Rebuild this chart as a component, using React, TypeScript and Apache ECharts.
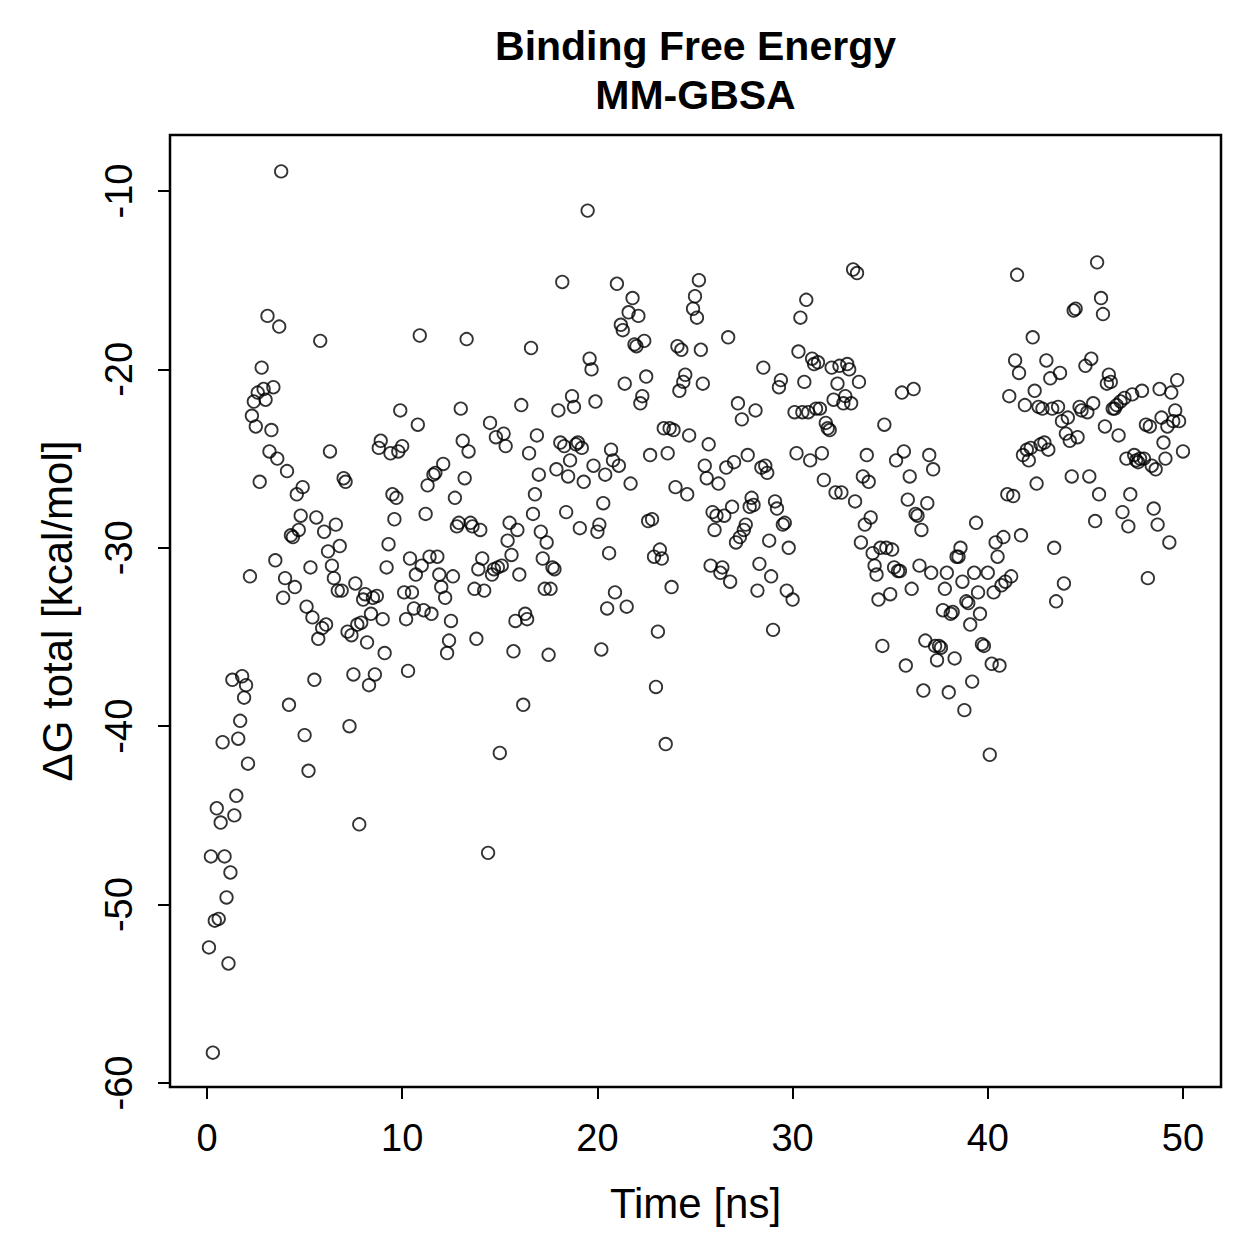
import React, { useEffect, useRef } from "react";
import * as echarts from "echarts";

// ---- text ----
const TITLE_LINES = ["Binding Free Energy", "MM-GBSA"];
const X_LABEL = "Time [ns]";
const Y_LABEL = "ΔG total [kcal/mol]";

// ---- axis ticks ----
const X_TICKS = [0, 10, 20, 30, 40, 50];
const Y_TICKS = [-60, -50, -40, -30, -20, -10];

// ---- MM-GBSA snapshots: [time (ns), ΔG total (kcal/mol)] ----
const block00: [number, number][] = [
  [0.1, -52.4], [0.2, -47.3], [0.3, -58.3], [0.4, -50.9], [0.5, -44.6], [0.6, -50.8], [0.7, -45.4], [0.8, -40.9], [0.9, -47.3], [1.0, -49.6],
  [1.1, -53.3], [1.2, -48.2], [1.3, -37.4], [1.4, -45.0], [1.5, -43.9], [1.6, -40.7], [1.7, -39.7], [1.8, -37.2], [1.9, -38.4], [2.0, -37.7],
  [2.1, -42.1], [2.2, -31.6], [2.3, -22.6], [2.4, -21.8], [2.5, -23.2], [2.6, -21.3], [2.7, -26.3], [2.8, -19.9], [2.9, -21.1], [3.0, -21.7],
  [3.1, -17.0], [3.2, -24.6], [3.3, -23.4], [3.4, -21.0], [3.5, -30.7], [3.6, -25.0], [3.7, -17.6], [3.8, -8.9], [3.9, -32.8], [4.0, -31.7],
  [4.1, -25.7], [4.2, -38.8], [4.3, -29.3], [4.4, -29.4], [4.5, -32.2], [4.6, -27.0], [4.7, -29.0], [4.8, -28.2], [4.9, -26.6], [5.0, -40.5],
];
const block05: [number, number][] = [
  [5.1, -33.3], [5.2, -42.5], [5.3, -31.1], [5.4, -33.9], [5.5, -37.4], [5.6, -28.3], [5.7, -35.1], [5.8, -18.4], [5.9, -34.5], [6.0, -29.1],
  [6.1, -34.3], [6.2, -30.2], [6.3, -24.6], [6.4, -31.0], [6.5, -31.7], [6.6, -28.7], [6.7, -32.4], [6.8, -29.9], [6.9, -32.4], [7.0, -26.1],
  [7.1, -26.3], [7.2, -34.7], [7.3, -40.0], [7.4, -34.9], [7.5, -37.1], [7.6, -32.0], [7.7, -34.3], [7.8, -45.5], [7.9, -34.2], [8.0, -32.9],
  [8.1, -32.6], [8.2, -35.3], [8.3, -37.7], [8.4, -33.7], [8.5, -32.8], [8.6, -37.1], [8.7, -32.7], [8.8, -24.4], [8.9, -24.0], [9.0, -34.0],
  [9.1, -35.9], [9.2, -31.1], [9.3, -29.8], [9.4, -24.7], [9.5, -27.0], [9.6, -28.4], [9.7, -27.2], [9.8, -24.6], [9.9, -22.3], [10.0, -24.3],
];
const block10: [number, number][] = [
  [10.1, -32.5], [10.2, -34.0], [10.3, -36.9], [10.4, -30.6], [10.5, -32.5], [10.6, -33.4], [10.7, -31.5], [10.8, -23.1], [10.9, -18.1], [11.0, -31.0],
  [11.1, -33.5], [11.2, -28.1], [11.3, -26.5], [11.4, -30.5], [11.5, -33.7], [11.6, -25.9], [11.7, -25.8], [11.8, -30.5], [11.9, -31.5], [12.0, -32.2],
  [12.1, -25.3], [12.2, -32.8], [12.3, -35.9], [12.4, -35.2], [12.5, -34.1], [12.6, -31.6], [12.7, -27.2], [12.8, -28.8], [12.9, -28.6], [13.0, -22.2],
  [13.1, -24.0], [13.2, -26.1], [13.3, -18.3], [13.4, -24.6], [13.5, -28.6], [13.6, -28.8], [13.7, -32.3], [13.8, -35.1], [13.9, -31.2], [14.0, -29.0],
  [14.1, -30.6], [14.2, -32.4], [14.4, -47.1], [14.5, -23.0], [14.6, -31.5], [14.7, -31.2], [14.8, -23.8], [14.9, -31.1], [15.0, -41.5],
];
const block15: [number, number][] = [
  [15.1, -31.0], [15.2, -23.6], [15.3, -24.3], [15.4, -29.6], [15.5, -28.6], [15.6, -30.4], [15.7, -35.8], [15.8, -34.1], [15.9, -29.0], [16.0, -31.5],
  [16.1, -22.0], [16.2, -38.8], [16.3, -33.7], [16.4, -34.0], [16.5, -24.7], [16.6, -18.8], [16.7, -28.1], [16.8, -27.0], [16.9, -23.7], [17.0, -25.9],
  [17.1, -29.1], [17.2, -30.6], [17.3, -32.3], [17.4, -29.7], [17.5, -36.0], [17.6, -32.3], [17.7, -31.1], [17.8, -31.2], [17.9, -25.6], [18.0, -22.3],
  [18.1, -24.1], [18.2, -15.1], [18.3, -24.3], [18.4, -28.0], [18.5, -26.0], [18.6, -25.1], [18.7, -21.5], [18.8, -22.1], [18.9, -24.2], [19.0, -24.1],
  [19.1, -28.9], [19.2, -24.4], [19.3, -26.3], [19.5, -11.1], [19.6, -19.4], [19.7, -20.0], [19.8, -25.4], [19.9, -21.8], [20.0, -29.1],
];
const block20: [number, number][] = [
  [20.1, -28.7], [20.2, -35.7], [20.3, -27.5], [20.4, -25.9], [20.5, -33.4], [20.6, -30.3], [20.7, -24.5], [20.8, -25.1], [20.9, -32.5], [21.0, -15.2],
  [21.1, -25.4], [21.2, -17.5], [21.3, -17.8], [21.4, -20.8], [21.5, -33.3], [21.6, -16.8], [21.7, -26.4], [21.8, -16.0], [21.9, -18.6], [22.0, -18.7],
  [22.1, -17.0], [22.2, -21.9], [22.3, -21.5], [22.4, -18.4], [22.5, -20.4], [22.6, -28.5], [22.7, -24.8], [22.8, -28.4], [22.9, -30.5], [23.0, -37.8],
  [23.1, -34.7], [23.2, -30.1], [23.3, -30.6], [23.4, -23.3], [23.5, -41.0], [23.6, -24.7], [23.7, -23.3], [23.8, -32.2], [23.9, -23.4], [24.0, -26.6],
  [24.1, -18.7], [24.2, -21.2], [24.3, -18.9], [24.4, -20.7], [24.5, -20.3], [24.6, -27.0], [24.7, -23.7], [24.9, -16.6], [25.0, -15.9],
];
const block25: [number, number][] = [
  [25.1, -17.1], [25.2, -15.0], [25.3, -18.9], [25.4, -20.8], [25.5, -25.4], [25.6, -26.1], [25.7, -24.2], [25.8, -31.0], [25.9, -28.0], [26.0, -29.0],
  [26.1, -28.2], [26.2, -26.4], [26.3, -31.4], [26.4, -31.1], [26.5, -28.2], [26.6, -25.5], [26.7, -18.2], [26.8, -31.9], [26.9, -27.7], [27.0, -25.2],
  [27.1, -29.7], [27.2, -21.9], [27.3, -29.4], [27.4, -22.8], [27.5, -29.0], [27.6, -28.7], [27.7, -24.8], [27.8, -27.7], [27.9, -27.2], [28.0, -27.6],
  [28.1, -22.3], [28.2, -32.4], [28.3, -30.9], [28.4, -25.5], [28.5, -19.9], [28.6, -25.4], [28.7, -25.8], [28.8, -29.6], [28.9, -31.6], [29.0, -34.6],
  [29.1, -27.4], [29.2, -27.8], [29.3, -21.0], [29.4, -20.6], [29.5, -28.7], [29.6, -28.6], [29.7, -32.4], [29.8, -30.0], [30.0, -32.9],
];
const block30: [number, number][] = [
  [30.1, -22.4], [30.2, -24.7], [30.3, -19.0], [30.4, -17.1], [30.5, -22.4], [30.6, -20.7], [30.7, -16.1], [30.8, -22.4], [30.9, -25.1], [31.0, -19.4],
  [31.1, -19.7], [31.2, -22.2], [31.3, -19.6], [31.4, -22.2], [31.5, -24.7], [31.6, -26.2], [31.7, -23.0], [31.8, -23.3], [31.9, -23.4], [32.0, -19.9],
  [32.1, -21.7], [32.2, -26.9], [32.3, -20.8], [32.4, -19.8], [32.5, -26.9], [32.6, -21.9], [32.7, -21.5], [32.8, -19.7], [32.9, -20.0], [33.0, -21.9],
  [33.1, -14.4], [33.2, -27.4], [33.3, -14.6], [33.4, -20.7], [33.5, -29.7], [33.6, -26.0], [33.7, -28.7], [33.8, -24.8], [33.9, -26.3], [34.0, -28.3],
  [34.1, -30.3], [34.2, -31.0], [34.3, -31.5], [34.4, -32.9], [34.5, -30.0], [34.6, -35.5], [34.7, -23.1], [34.8, -30.0], [35.0, -32.6],
];
const block35: [number, number][] = [
  [35.1, -30.1], [35.2, -31.1], [35.3, -25.1], [35.4, -31.3], [35.5, -31.3], [35.6, -21.3], [35.7, -24.6], [35.8, -36.6], [35.9, -27.3], [36.0, -26.0],
  [36.1, -32.3], [36.2, -21.1], [36.3, -28.1], [36.4, -28.2], [36.5, -31.0], [36.6, -29.0], [36.7, -38.0], [36.8, -35.2], [36.9, -27.5], [37.0, -24.8],
  [37.1, -31.4], [37.2, -25.6], [37.3, -35.5], [37.4, -36.3], [37.5, -35.5], [37.6, -35.6], [37.7, -33.5], [37.8, -32.3], [37.9, -31.4], [38.0, -38.1],
  [38.1, -33.7], [38.2, -33.6], [38.3, -36.2], [38.4, -30.5], [38.5, -30.5], [38.6, -30.0], [38.7, -31.9], [38.8, -39.1], [38.9, -33.0], [39.0, -33.1],
  [39.1, -34.3], [39.2, -37.5], [39.3, -31.4], [39.4, -28.6], [39.5, -32.5], [39.6, -33.7], [39.7, -35.4], [39.8, -35.5], [40.0, -31.4],
];
const block40: [number, number][] = [
  [40.1, -41.6], [40.2, -36.5], [40.3, -32.5], [40.4, -29.7], [40.5, -30.5], [40.6, -36.6], [40.7, -32.1], [40.8, -29.4], [40.9, -31.9], [41.0, -27.0],
  [41.1, -21.5], [41.2, -31.6], [41.3, -27.1], [41.4, -19.5], [41.5, -14.7], [41.6, -20.2], [41.7, -29.3], [41.8, -24.8], [41.9, -22.0], [42.0, -24.5],
  [42.1, -25.1], [42.2, -24.4], [42.3, -18.2], [42.4, -21.2], [42.5, -26.4], [42.6, -22.1], [42.7, -24.2], [42.8, -22.2], [42.9, -24.1], [43.0, -19.5],
  [43.1, -24.5], [43.2, -20.5], [43.3, -22.2], [43.4, -30.0], [43.5, -33.0], [43.6, -22.1], [43.7, -20.2], [43.8, -22.9], [43.9, -32.0], [44.0, -23.6],
  [44.1, -22.7], [44.2, -24.0], [44.3, -26.0], [44.4, -16.7], [44.5, -16.6], [44.6, -23.8], [44.7, -22.1], [44.8, -22.3], [45.0, -19.8],
];
const block45: [number, number][] = [
  [45.1, -22.4], [45.2, -26.0], [45.3, -19.4], [45.4, -21.9], [45.5, -28.5], [45.6, -14.0], [45.7, -27.0], [45.8, -16.0], [45.9, -16.9], [46.0, -23.2],
  [46.1, -20.8], [46.2, -20.3], [46.3, -20.7], [46.4, -22.2], [46.5, -22.2], [46.6, -22.0], [46.7, -23.7], [46.8, -21.8], [46.9, -28.0], [47.0, -21.6],
  [47.1, -25.0], [47.2, -28.8], [47.3, -27.0], [47.4, -21.4], [47.5, -24.8], [47.6, -25.1], [47.7, -25.2], [47.8, -25.0], [47.9, -21.2], [48.0, -25.0],
  [48.1, -23.1], [48.2, -31.7], [48.3, -23.2], [48.4, -25.4], [48.5, -27.8], [48.6, -25.6], [48.7, -28.7], [48.8, -21.1], [48.9, -22.7], [49.0, -24.1],
  [49.1, -25.0], [49.2, -23.2], [49.3, -29.7], [49.4, -21.3], [49.5, -22.9], [49.6, -22.3], [49.7, -20.6], [49.8, -22.9], [50.0, -24.6],
];

const SAMPLES = [
  ...block00, ...block05, ...block10, ...block15, ...block20,
  ...block25, ...block30, ...block35, ...block40, ...block45,
];

// ---- page layout (px) ----
const SIZE = 1259;
const AXIS_LEFT = 207;    // x = 0
const AXIS_RIGHT = 1183;  // x = 50
const AXIS_TOP = 191;     // y = -10
const AXIS_BOTTOM = 1083; // y = -60
const FRAME = { x: 170, y: 135, width: 1051, height: 952 };
const FONT = "'Liberation Sans', Arial, Helvetica, sans-serif";

export default function App() {
  const ref = useRef<HTMLDivElement>(null);

  useEffect(() => {
    if (!ref.current) return;
    const chart = echarts.init(ref.current, null, { renderer: "svg" });
    const frameCx = FRAME.x + FRAME.width / 2;
    const frameCy = FRAME.y + FRAME.height / 2;

    const textStyle = (text: string, font: string) => ({
      text,
      fill: "#000",
      font,
      align: "center",
      verticalAlign: "middle",
    });

    chart.setOption({
      animation: false,
      backgroundColor: "#ffffff",
      grid: {
        left: AXIS_LEFT,
        right: SIZE - AXIS_RIGHT,
        top: AXIS_TOP,
        bottom: SIZE - AXIS_BOTTOM,
        containLabel: false,
      },
      xAxis: {
        type: "value",
        min: X_TICKS[0],
        max: X_TICKS[X_TICKS.length - 1],
        interval: X_TICKS[1] - X_TICKS[0],
        position: "bottom",
        offset: FRAME.y + FRAME.height - AXIS_BOTTOM,
        axisLine: { show: true, onZero: false, lineStyle: { color: "#000", width: 2 } },
        axisTick: { show: true, length: 12, lineStyle: { color: "#000", width: 2 } },
        axisLabel: { color: "#000", fontSize: 38, fontFamily: FONT, margin: 32 },
        splitLine: { show: false },
      },
      yAxis: {
        type: "value",
        min: Y_TICKS[0],
        max: Y_TICKS[Y_TICKS.length - 1],
        interval: Y_TICKS[1] - Y_TICKS[0],
        position: "left",
        offset: AXIS_LEFT - FRAME.x,
        axisLine: { show: true, onZero: false, lineStyle: { color: "#000", width: 2 } },
        axisTick: { show: true, length: 12, lineStyle: { color: "#000", width: 2 } },
        axisLabel: { color: "#000", fontSize: 38, fontFamily: FONT, margin: 32, rotate: 90 },
        splitLine: { show: false },
      },
      graphic: [
        {
          type: "rect",
          shape: { ...FRAME },
          style: { fill: "none", stroke: "#000", lineWidth: 2.5 },
          silent: true,
        },
        { type: "text", x: frameCx, y: 46, style: textStyle(TITLE_LINES[0], `bold 41px ${FONT}`) },
        { type: "text", x: frameCx, y: 95, style: textStyle(TITLE_LINES[1], `bold 41px ${FONT}`) },
        { type: "text", x: frameCx, y: 1203, style: textStyle(X_LABEL, `42px ${FONT}`) },
        {
          type: "text",
          x: 57,
          y: frameCy,
          rotation: Math.PI / 2,
          style: textStyle(Y_LABEL, `42px ${FONT}`),
        },
      ],
      series: [
        {
          type: "scatter",
          data: SAMPLES,
          clip: false,
          symbol: "circle",
          symbolSize: 12.5,
          itemStyle: { color: "rgba(0,0,0,0)", borderColor: "#000", borderWidth: 1.8 },
          emphasis: { disabled: true },
        },
      ],
    });

    return () => chart.dispose();
  }, []);

  return (
    <div
      ref={ref}
      style={{ position: "fixed", left: 0, top: 0, width: SIZE, height: SIZE, background: "#fff" }}
    />
  );
}
